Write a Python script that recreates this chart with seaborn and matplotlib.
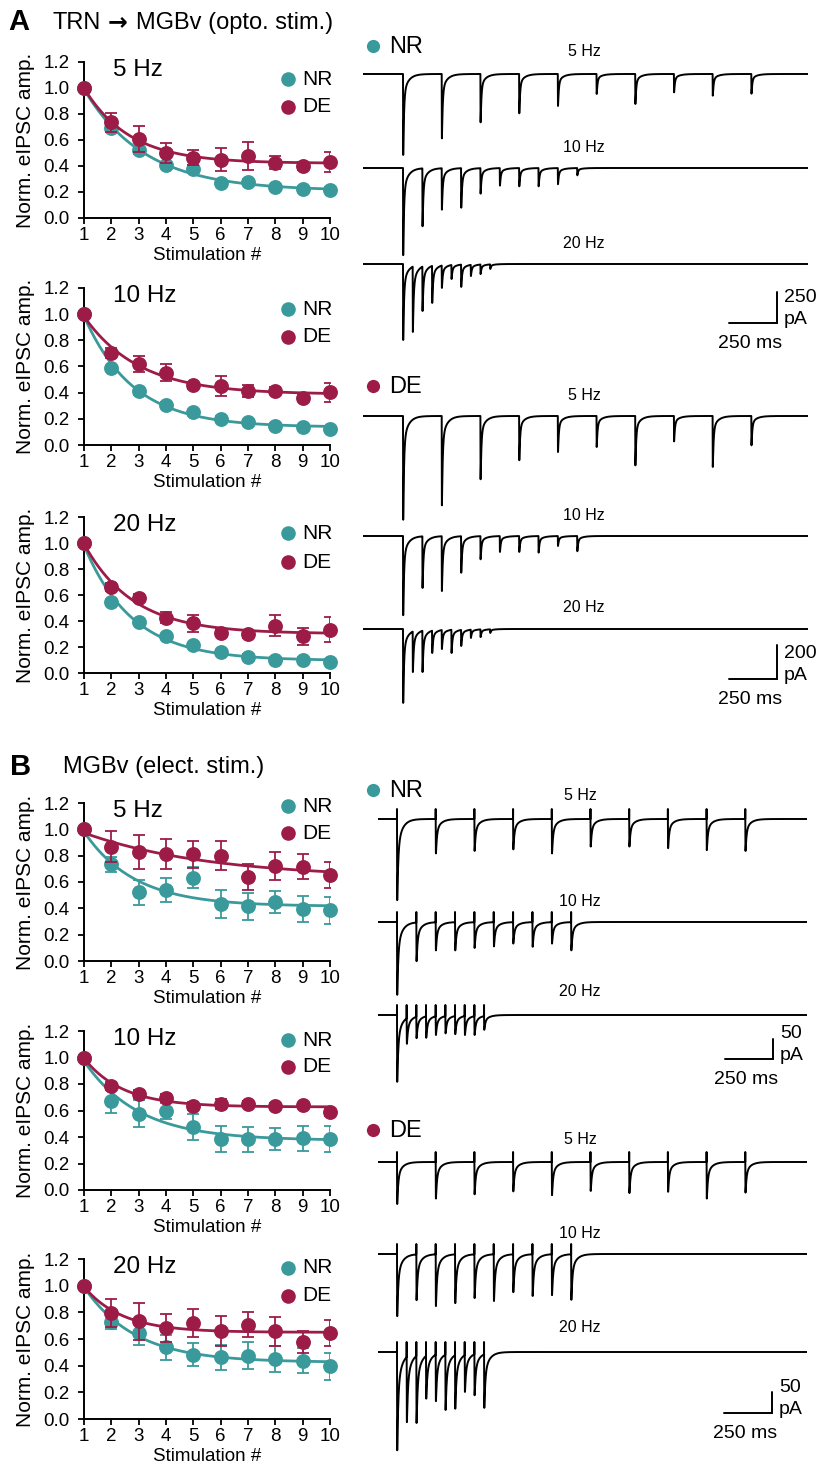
import numpy as np
import pandas as pd
import matplotlib
matplotlib.use("Agg")
import matplotlib.pyplot as plt
import seaborn as sns

sns.set_style("ticks")
plt.rcParams["font.family"] = ["Liberation Sans", "DejaVu Sans"]
plt.rcParams["text.color"] = "black"
plt.rcParams["axes.labelcolor"] = "black"
plt.rcParams["xtick.color"] = "black"
plt.rcParams["ytick.color"] = "black"
plt.rcParams["axes.edgecolor"] = "black"

NR_COLOR = "#3a9a9b"
DE_COLOR = "#9c1c47"

# =========================
# 1. DATA
# =========================
stim = np.arange(1, 11)
freqs = [5, 10, 20]

# A: TRN -> MGBv (opto), normalized eIPSC amplitude, mean and SEM
a5_nr = [1.0, 0.69, 0.52, 0.41, 0.375, 0.27, 0.28, 0.235, 0.225, 0.217]
a5_nr_err = [0, 0.03, 0.03, 0.02, 0.03, 0.02, 0.02, 0.02, 0.02, 0.02]
a5_de = [1.0, 0.735, 0.61, 0.50, 0.465, 0.45, 0.475, 0.425, 0.40, 0.43]
a5_de_err = [0, 0.07, 0.10, 0.077, 0.06, 0.085, 0.107, 0.05, 0.03, 0.075]

a10_nr = [1.0, 0.587, 0.414, 0.307, 0.25, 0.2, 0.174, 0.148, 0.135, 0.123]
a10_nr_err = [0, 0.02, 0.03, 0.02, 0.02, 0.02, 0.02, 0.02, 0.02, 0.02]
a10_de = [1.0, 0.702, 0.618, 0.554, 0.455, 0.452, 0.414, 0.416, 0.363, 0.403]
a10_de_err = [0, 0.04, 0.06, 0.065, 0.03, 0.077, 0.045, 0.03, 0.03, 0.074]

a20_nr = [1.0, 0.549, 0.391, 0.281, 0.212, 0.158, 0.123, 0.102, 0.102, 0.084]
a20_nr_err = [0, 0.02, 0.02, 0.02, 0.02, 0.02, 0.02, 0.02, 0.02, 0.02]
a20_de = [1.0, 0.664, 0.58, 0.426, 0.383, 0.311, 0.299, 0.365, 0.281, 0.332]
a20_de_err = [0, 0.03, 0.03, 0.04, 0.064, 0.03, 0.03, 0.08, 0.064, 0.097]

# B: MGBv (electrical)
b5_nr = [1.0, 0.734, 0.522, 0.54, 0.633, 0.434, 0.414, 0.447, 0.394, 0.384]
b5_nr_err = [0, 0.058, 0.093, 0.093, 0.08, 0.106, 0.1, 0.086, 0.1, 0.1]
b5_de = [1.0, 0.868, 0.83, 0.81, 0.81, 0.80, 0.636, 0.724, 0.716, 0.654]
b5_de_err = [0, 0.118, 0.13, 0.113, 0.103, 0.11, 0.098, 0.106, 0.093, 0.096]

b10_nr = [1.0, 0.67, 0.577, 0.598, 0.477, 0.384, 0.384, 0.382, 0.389, 0.384]
b10_nr_err = [0, 0.09, 0.1, 0.06, 0.1, 0.1, 0.095, 0.083, 0.097, 0.1]
b10_de = [1.0, 0.786, 0.723, 0.695, 0.635, 0.648, 0.648, 0.635, 0.64, 0.585]
b10_de_err = [0, 0.03, 0.03, 0.03, 0.03, 0.04, 0.02, 0.02, 0.02, 0.03]

b20_nr = [1.0, 0.725, 0.645, 0.537, 0.482, 0.462, 0.475, 0.45, 0.437, 0.395]
b20_nr_err = [0, 0.05, 0.09, 0.095, 0.087, 0.095, 0.1, 0.095, 0.095, 0.1]
b20_de = [1.0, 0.795, 0.732, 0.682, 0.72, 0.657, 0.707, 0.657, 0.575, 0.645]
b20_de_err = [0, 0.108, 0.137, 0.108, 0.105, 0.112, 0.095, 0.108, 0.083, 0.1]

# example traces: peak eIPSC per pulse (pA, from baseline)
tr_a_nr_5 = [653, 519, 390, 317, 258, 161, 242, 148, 175, 159]
tr_a_nr_10 = [703, 470, 336, 320, 207, 142, 148, 148, 131, 59]
tr_a_nr_20 = [613, 548, 379, 314, 193, 121, 185, 97, 81, 40]
tr_a_de_5 = [605, 521, 369, 258, 210, 181, 288, 148, 297, 171]
tr_a_de_10 = [462, 303, 321, 214, 136, 93, 93, 97, 58, 89]
tr_a_de_20 = [431, 251, 251, 140, 117, 140, 99, 52, 47, 23]
tr_b_nr_5 = [203, 86, 80, 76, 86, 69, 69, 73, 78, 80]
tr_b_nr_10 = [182, 98, 71, 71, 65, 61, 54, 62, 54, 71]
tr_b_nr_20 = [167, 72, 58, 57, 50, 46, 48, 50, 50, 37]
tr_b_de_5 = [100, 87, 77, 70, 79, 69, 74, 71, 87, 73]
tr_b_de_10 = [148, 110, 124, 117, 105, 112, 91, 100, 98, 109]
tr_b_de_20 = [234, 167, 169, 111, 117, 138, 135, 95, 103, 133]

scale_pa = [250, 200, 50, 50]
scale_ms = 250

# =========================
# 2. FIGURE
# =========================
W, H = 828, 1477
fig = plt.figure(figsize=(W / 100, H / 100), dpi=100)


def px_rect(left, top, right, bottom):
    return [left / W, 1 - bottom / H, (right - left) / W, (bottom - top) / H]


def fit_decay(x, y):
    # single exponential y = c + a*exp(-(x-1)/tau), grid over tau
    best = None
    for tau in np.linspace(0.3, 8, 400):
        e = np.exp(-(x - 1) / tau)
        M = np.column_stack([e, np.ones_like(e)])
        coef = np.linalg.lstsq(M, y, rcond=None)[0]
        sse = np.sum((M @ coef - y) ** 2)
        if best is None or sse < best[0]:
            best = (sse, tau, coef)
    return best[1], best[2]


def summary_panel(top, bottom, freq, nr, nr_err, de, de_err, leg_y):
    ax = fig.add_axes(px_rect(84, top, 330, bottom))
    xs = np.linspace(1, 10, 200)
    for vals, errs, col, z in [(nr, nr_err, NR_COLOR, 2), (de, de_err, DE_COLOR, 6)]:
        vals = np.asarray(vals, float)
        tau, (amp, c) = fit_decay(stim.astype(float), vals)
        sns.lineplot(x=xs, y=c + amp * np.exp(-(xs - 1) / tau), ax=ax,
                     color=col, lw=2.0, zorder=z)
        ax.errorbar(stim, vals, yerr=errs, fmt="none", ecolor=col,
                    elinewidth=1.3, capsize=4, capthick=1.3, zorder=z + 1)
        sns.scatterplot(x=stim, y=vals, ax=ax, color=col, s=115,
                        linewidth=0, zorder=z + 2, clip_on=False)
    ax.set_xlim(1, 10)
    ax.set_ylim(0, 1.2)
    ax.set_xticks(stim)
    ax.set_yticks(np.arange(0, 1.21, 0.2))
    ax.yaxis.set_major_formatter(matplotlib.ticker.FormatStrFormatter("%.1f"))
    sns.despine(ax=ax)
    for s in ["left", "bottom"]:
        ax.spines[s].set_linewidth(1.4)
    ax.tick_params(direction="out", length=4.5, width=1.3, labelsize=13.5)
    ax.tick_params(axis="y", pad=6)
    ax.tick_params(axis="x", pad=2)
    ax.set_xlabel("Stimulation #", fontsize=13.5, labelpad=2)
    ax.set_ylabel("Norm. eIPSC amp.", fontsize=15, labelpad=6)
    ax.text(0.118, 0.95, f"{freq} Hz", transform=ax.transAxes,
            ha="left", va="center", fontsize=17.5)
    for lab, col, yy in [("NR", NR_COLOR, leg_y[0]), ("DE", DE_COLOR, leg_y[1])]:
        ax.plot([0.83], [yy], "o", color=col, ms=10.5, mew=0,
                transform=ax.transAxes, clip_on=False)
        ax.text(0.886, yy, lab, transform=ax.transAxes, ha="left",
                va="center", fontsize=15)
    return ax


panels = [
    (62, 218, 5, a5_nr, a5_nr_err, a5_de, a5_de_err, (0.891, 0.712)),
    (288, 445, 10, a10_nr, a10_nr_err, a10_de, a10_de_err, (0.866, 0.688)),
    (517, 673, 20, a20_nr, a20_nr_err, a20_de, a20_de_err, (0.897, 0.71)),
    (803, 961, 5, b5_nr, b5_nr_err, b5_de, b5_de_err, (0.98, 0.81)),
    (1031, 1190, 10, b10_nr, b10_nr_err, b10_de, b10_de_err, (0.943, 0.774)),
    (1259, 1419, 20, b20_nr, b20_nr_err, b20_de, b20_de_err, (0.944, 0.769)),
]
for p in panels:
    summary_panel(*p)

# =========================
# 3. EXAMPLE TRACES
# =========================
PX_PER_MS = 0.1935


def kernel(dt, tau_fast, tau_slow, w_fast, tau_rise=0.4):
    return (w_fast * np.exp(-dt / tau_fast) + (1 - w_fast) * np.exp(-dt / tau_slow)) \
        * (1 - np.exp(-dt / tau_rise))


def build_trace(t, onsets, depths, kpars, art):
    grid = np.arange(0, 60, 0.01)
    kg = kernel(grid, *kpars)
    norm, tpk = kg.max(), grid[kg.argmax()]
    y = np.zeros_like(t)
    for tk, d in zip(onsets, depths):
        ipk = min(np.searchsorted(t, tk + tpk), len(t) - 1)
        amp = max(d + y[ipk], 0)
        m = t >= tk
        y[m] -= amp * kernel(t[m] - tk, *kpars) / norm
    if art:
        for tk in onsets:
            y[(t >= tk - 0.35) & (t < tk)] = art
    return y


groups = [
    dict(x0=363, x1=808, first=403, bases=[74, 168, 264], pa_px=250 / 31,
         amps=[tr_a_nr_5, tr_a_nr_10, tr_a_nr_20], kp=(4, 25, 0.8), art=0),
    dict(x0=363, x1=808, first=403, bases=[416, 536, 629], pa_px=200 / 34.3,
         amps=[tr_a_de_5, tr_a_de_10, tr_a_de_20], kp=(4, 25, 0.8), art=0),
    dict(x0=378, x1=807, first=397, bases=[819, 922, 1015], pa_px=2.5,
         amps=[tr_b_nr_5, tr_b_nr_10, tr_b_nr_20], kp=(5, 25, 0.7), art=10),
    dict(x0=378, x1=807, first=397, bases=[1162, 1254, 1352], pa_px=2.38,
         amps=[tr_b_de_5, tr_b_de_10, tr_b_de_20], kp=(5, 25, 0.7), art=10),
]

for g in groups:
    span = (g["x1"] - g["x0"]) / PX_PER_MS
    t = np.arange(0, span, 0.1)
    t0 = (g["first"] - g["x0"]) / PX_PER_MS
    for base, f, amps in zip(g["bases"], freqs, g["amps"]):
        up, down = 20, 110
        ax = fig.add_axes(px_rect(g["x0"], base - up, g["x1"], base + down))
        ax.patch.set_alpha(0)
        onsets = t0 + np.arange(10) * 1000.0 / f
        y = build_trace(t, onsets, amps, g["kp"], g["art"] * g["pa_px"])
        sns.lineplot(x=t, y=y, ax=ax, color="black", lw=1.4,
                     estimator=None, sort=False)
        ax.set_xlim(0, span)
        ax.set_ylim(-down * g["pa_px"], up * g["pa_px"])
        ax.axis("off")

# =========================
# 4. OVERLAY TEXT, SCALE BARS
# =========================
ov = fig.add_axes([0, 0, 1, 1])
ov.set_xlim(0, W)
ov.set_ylim(H, 0)
ov.axis("off")
ov.patch.set_alpha(0)

ov.text(8, 22, "A", fontsize=21, fontweight="bold", ha="left", va="center")
ov.text(53, 23, "TRN", fontsize=17, ha="left", va="center")
ov.text(108, 22, "\u2192", fontsize=17, ha="left", va="center",
        family=["DejaVu Sans"], fontweight="bold")
ov.text(136, 23, "MGBv (opto. stim.)", fontsize=17, ha="left", va="center")
ov.text(10, 767, "B", fontsize=21, fontweight="bold", ha="left", va="center")
ov.text(63, 767, "MGBv (elect. stim.)", fontsize=17, ha="left", va="center")

group_labels = [("NR", NR_COLOR, 46), ("DE", DE_COLOR, 386),
                ("NR", NR_COLOR, 790), ("DE", DE_COLOR, 1130)]
for lab, col, yy in group_labels:
    ov.plot([373], [yy], "o", color=col, ms=9.5, mew=0)
    ov.text(389, yy + 1, lab, fontsize=17, ha="left", va="center")

freq_label_pos = [(584, [52, 148, 244]), (584, [396, 515, 608]),
                  (580, [795, 901, 992]), (580, [1139, 1233, 1328])]
for (xx, ys) in freq_label_pos:
    for f, yy in zip(freqs, ys):
        ov.text(xx, yy, f"{f} Hz", fontsize=11.5, ha="center", va="center")

bar_pos = [(777, 323), (777, 679), (773, 1059), (772, 1413)]
for (cx, cy), g, pa in zip(bar_pos, groups, scale_pa):
    vlen = pa / g["pa_px"]
    hlen = scale_ms * PX_PER_MS
    ov.plot([cx - hlen, cx, cx], [cy, cy, cy - vlen], color="black", lw=1.4,
            solid_joinstyle="miter")
    ov.text(cx + 7, cy - 25, str(pa), fontsize=14, ha="left", va="center")
    ov.text(cx + 7, cy - 3, "pA", fontsize=14, ha="left", va="center")
    ov.text(cx - 27, cy + 20, f"{scale_ms} ms", fontsize=14, ha="center", va="center")

fig.savefig("out.png", dpi=100)
